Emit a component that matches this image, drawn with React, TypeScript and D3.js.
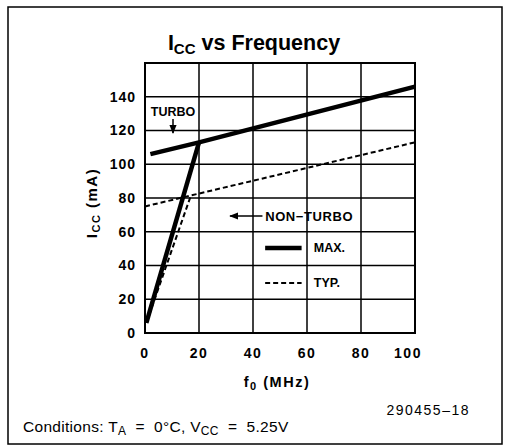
import React from 'react';
import * as d3 from 'd3';

// axis ticks
const freqTicks = [0, 20, 40, 60, 80, 100];
const iccTicks = [0, 20, 40, 60, 80, 100, 120, 140];
const iccGrid = [0, 20, 40, 60, 80, 100, 120, 140, 160];

// MAX. curves (solid)
const maxTurboFreq = [2, 20, 100];
const maxTurboIcc = [106, 113, 146];
const maxNonTurboFreq = [0.5, 20];
const maxNonTurboIcc = [6, 113];

// TYP. curves (dashed)
const typTurboFreq = [0, 17, 100];
const typTurboIcc = [75, 81.5, 113];
const typNonTurboFreq = [0.5, 17];
const typNonTurboIcc = [6, 81.5];

const W = 505;
const H = 447;
const margin = { top: 63, right: 90, bottom: 114, left: 145 };
const font = "'Liberation Sans', Arial, Helvetica, sans-serif";

const App = () => {
    const x = d3.scaleLinear().domain([0, 100]).range([margin.left, W - margin.right]);
    const y = d3.scaleLinear().domain([0, 160]).range([H - margin.bottom, margin.top]);

    const line = d3.line<[number, number]>()
        .x(d => x(d[0]))
        .y(d => y(d[1]));

    const pts = (fs: number[], vs: number[]) => fs.map((f, i) => [f, vs[i]] as [number, number]);

    // legend position in data units
    const lgX0 = 44.5, lgX1 = 58;

    return (
        <div style={{ position: 'absolute', left: 0, top: 0 }}>
            <svg width={W} height={H} style={{ display: 'block', background: '#fff' }}>
                <defs>
                    <marker id="arr" viewBox="0 0 10 10" refX="9" refY="5" markerWidth="6" markerHeight="6" orient="auto">
                        <path d="M0,1 L10,5 L0,9 Z" fill="#000" />
                    </marker>
                </defs>
                {/* outer frame */}
                <rect x={8} y={7} width={494} height={437} fill="none" stroke="#000" strokeWidth={1.5} />

                {/* title */}
                <text x={254} y={50} textAnchor="middle" fontFamily={font} fontWeight="bold" fontSize={21.5}>
                    I<tspan fontSize={15} dy={4}>CC</tspan><tspan dy={-4}> vs Frequency</tspan>
                </text>

                {/* grid */}
                <g stroke="#000" strokeWidth={1.5}>
                    {freqTicks.map(t => (
                        <line key={'v' + t} x1={x(t)} x2={x(t)} y1={y(0)} y2={y(160)} />
                    ))}
                    {iccGrid.map(t => (
                        <line key={'h' + t} x1={x(0)} x2={x(100)} y1={y(t)} y2={y(t)} />
                    ))}
                </g>
                <rect x={x(0)} y={y(160)} width={x(100) - x(0)} height={y(0) - y(160)} fill="none" stroke="#000" strokeWidth={2} />

                {/* y ticks */}
                <g fontFamily={font} fontWeight="bold" fontSize={14} letterSpacing={1} textAnchor="end">
                    {iccTicks.map(t => (
                        <text key={t} x={x(0) - 9} y={y(t)} dy="0.35em">{t}</text>
                    ))}
                </g>
                {/* x ticks */}
                <g fontFamily={font} fontWeight="bold" fontSize={14} letterSpacing={1.5} textAnchor="middle">
                    {freqTicks.map(t => (
                        <text key={t} x={x(t) - (t === 100 ? 7 : 0)} y={y(0) + 20} dy="0.35em">{t}</text>
                    ))}
                </g>

                {/* axis labels */}
                <text transform={`translate(97,203) rotate(-90)`} textAnchor="middle" fontFamily={font} fontWeight="bold" fontSize={15} letterSpacing={1.5}>
                    I<tspan fontSize={11} dy={3}>CC</tspan><tspan dy={-3}> (mA)</tspan>
                </text>
                <text x={277} y={387} textAnchor="middle" fontFamily={font} fontWeight="bold" fontSize={14.5} letterSpacing={1.5}>
                    f<tspan fontSize={11} dy={3}>0</tspan><tspan dy={-3}> (MHz)</tspan>
                </text>

                {/* curves */}
                <g fill="none" stroke="#000" strokeLinejoin="round">
                    <path d={line(pts(typTurboFreq, typTurboIcc)) || ''} strokeWidth={2} strokeDasharray="5,3" />
                    <path d={line(pts(typNonTurboFreq, typNonTurboIcc)) || ''} strokeWidth={2} strokeDasharray="5,3" />
                    <path d={line(pts(maxTurboFreq, maxTurboIcc)) || ''} strokeWidth={4.5} />
                    <path d={line(pts(maxNonTurboFreq, maxNonTurboIcc)) || ''} strokeWidth={4.5} />
                </g>

                {/* annotations */}
                <text x={173} y={116} textAnchor="middle" fontFamily={font} fontWeight="bold" fontSize={12.5}>TURBO</text>
                <line x1={173} x2={173} y1={119} y2={133} stroke="#000" strokeWidth={1.5} markerEnd="url(#arr)" />

                <line x1={x(43.5)} x2={x(31.5)} y1={216} y2={216} stroke="#000" strokeWidth={1.5} markerEnd="url(#arr)" />
                <text x={x(44.5)} y={216} dy="0.35em" fontFamily={font} fontWeight="bold" fontSize={13} letterSpacing={0.6}>NON−TURBO</text>

                {/* legend */}
                <line x1={x(lgX0)} x2={x(lgX1)} y1={248} y2={248} stroke="#000" strokeWidth={4.5} />
                <text x={x(62.5)} y={248} dy="0.35em" fontFamily={font} fontWeight="bold" fontSize={12.5}>MAX.</text>
                <line x1={x(lgX0)} x2={x(lgX1)} y1={283} y2={283} stroke="#000" strokeWidth={2} strokeDasharray="5,3" />
                <text x={x(62.5)} y={283} dy="0.35em" fontFamily={font} fontWeight="bold" fontSize={12.5}>TYP.</text>

                {/* footer */}
                <text x={470} y={415} textAnchor="end" fontFamily={font} fontSize={14} letterSpacing={1.5}>290455–18</text>
                <text x={23} y={432} fontFamily={font} fontSize={15.5} letterSpacing={0.3} style={{ whiteSpace: 'pre' }}>
                    Conditions: T<tspan fontSize={12} dy={3}>A</tspan><tspan dy={-3}>  =  0°C, V</tspan><tspan fontSize={12} dy={3}>CC</tspan><tspan dy={-3}>  =  5.25V</tspan>
                </text>
            </svg>
        </div>
    );
};

export default App;
